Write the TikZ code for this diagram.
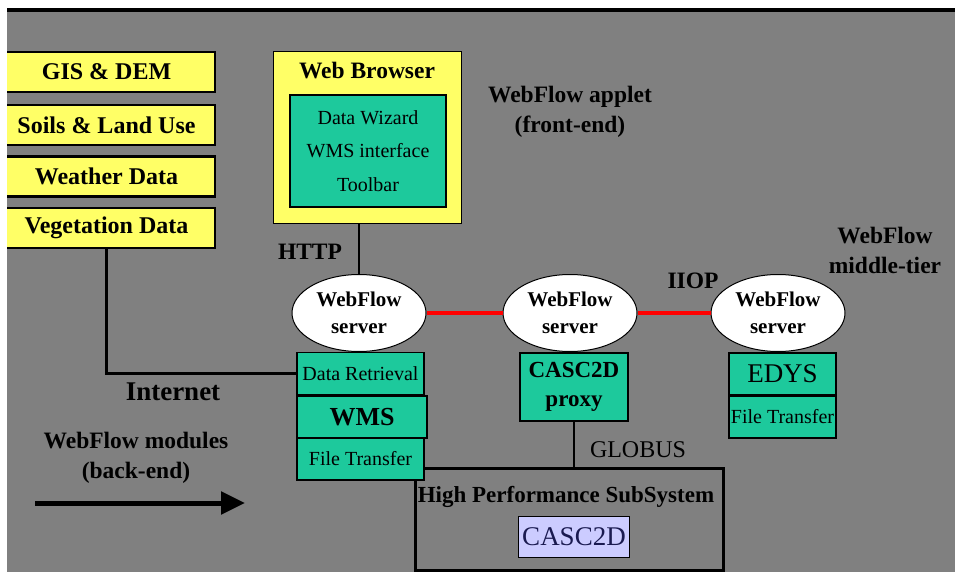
\documentclass[tikz,border=0pt]{standalone}
\usepackage{fontspec}
\setmainfont{Liberation Serif}
\usetikzlibrary{arrows.meta,positioning,shapes.geometric}
\definecolor{slide}{HTML}{808080}
\definecolor{pale}{HTML}{FFFF66}
\definecolor{sea}{HTML}{1DC99C}
\definecolor{lilac}{HTML}{CCCCFF}
\definecolor{navy}{HTML}{1A1A50}
\definecolor{iiop}{HTML}{FF0000}

\tikzset{
  srcbox/.style={draw, line width=2.5pt, fill=pale, minimum width=217pt,
    minimum height=40pt, inner sep=0pt, font=\fontsize{24}{28}\selectfont\bfseries},
  server/.style={ellipse, draw, line width=1pt, fill=white, minimum width=134pt,
    minimum height=77pt, inner sep=0pt, align=center,
    font=\fontsize{21}{27}\selectfont\bfseries},
  modbox/.style={draw, line width=1.2pt, fill=sea, inner sep=0pt, align=center,
    minimum height=42pt},
  lbl/.style={align=center, inner sep=0pt, font=\fontsize{23.5}{30}\selectfont\bfseries},
  wire/.style={line width=2.5pt}
}

\begin{document}
\begin{tikzpicture}[x=1pt, y=-1pt]
  \useasboundingbox (0,0) rectangle (955,572);
  \begin{scope}
  \clip (7,0) rectangle (955,572);
  \fill[slide] (7,10) rectangle (955,572);
  \draw[line width=4pt] (7,10) -- (955,10);

  % data sources
  \node[srcbox] (gis)   at (106.5,72)  {GIS \& DEM};
  \node[srcbox] (soils) at (106.5,125) {Soils \& Land Use};
  \node[srcbox] (wthr)  at (106.5,176.5) {Weather Data};
  \node[srcbox] (veg)   at (106.5,228) {Vegetation Data};
  \end{scope}

  % front-end
  \node[draw, line width=1pt, fill=pale, minimum width=188pt, minimum height=171pt]
    (browser) at (367,137.5) {};
  \node[lbl] (browsertitle) at (367,71) {Web Browser};
  \node[modbox, minimum width=156pt, minimum height=112pt,
        font=\fontsize{20}{33.5}\selectfont] (wizard) at (368,151)
    {Data Wizard\\WMS interface\\Toolbar};
  \node[lbl] (applet) at (570,112) {WebFlow applet\\(front-end)};

  % middle-tier
  \node[server] (srv1) at (359,313) {WebFlow\\server};
  \node[server] (srv2) at (570,313) {WebFlow\\server};
  \node[server] (srv3) at (778,313) {WebFlow\\server};
  \draw[iiop, line width=4pt] (srv1.east) -- (srv2.west);
  \draw[iiop, line width=4pt] (srv2.east) -- (srv3.west);
  \draw[wire] (srv1.north |- browser.south) -- (srv1.north);
  \node[lbl] (http) at (310,252) {HTTP};
  \node[lbl] (iioplbl) at (693,281) {IIOP};
  \node[lbl] (midtier) at (885,250) {WebFlow\\middle-tier};

  % back-end
  \node[draw, line width=3pt, minimum width=308pt, minimum height=102pt]
    (hps) at (569,519) {};
  \node[lbl, font=\fontsize{23}{28}\selectfont\bfseries] (hpstitle) at (566,497)
    {High Performance SubSystem};
  \node[draw, line width=1pt, fill=lilac, text=navy, minimum width=108pt,
        minimum height=41pt, font=\fontsize{27}{30}\selectfont] (casc) at (574,536.5) {CASC2D};

  \node[modbox, minimum width=127pt, font=\fontsize{20}{22}\selectfont]
    (dret) at (360.5,373.5) {Data Retrieval};
  \node[modbox, minimum width=130pt, font=\fontsize{26}{28}\selectfont\bfseries]
    (wms) at (362,417) {WMS};
  \node[modbox, minimum width=127pt, font=\fontsize{20}{22}\selectfont]
    (ftr1) at (360.5,459) {File Transfer};
  \node[modbox, minimum width=108pt, minimum height=68pt,
        font=\fontsize{23}{29}\selectfont\bfseries] (proxy) at (574,387) {CASC2D\\proxy};
  \node[modbox, minimum width=107pt, font=\fontsize{27}{28}\selectfont]
    (edys) at (782.5,374) {EDYS};
  \node[modbox, minimum width=107pt, font=\fontsize{20}{22}\selectfont]
    (ftr2) at (782.5,417) {File Transfer};

  \draw[wire] (veg.south) |- (dret.west);
  \draw[wire] (proxy.south) -- (proxy.south |- hps.north);
  \node[lbl, font=\fontsize{24}{26}\selectfont] (globus) at (638,450) {GLOBUS};
  \node[lbl, font=\fontsize{27}{28}\selectfont\bfseries] (internet) at (173,392) {Internet};
  \node[lbl] (modules) at (136,458) {WebFlow modules\\(back-end)};

  \coordinate (tail) at (35,503);
  \coordinate (tip) at (245,503);
  \draw[line width=5pt, -{Triangle[length=24pt,width=22pt]}] (tail) -- (tip);
\end{tikzpicture}
\end{document}
